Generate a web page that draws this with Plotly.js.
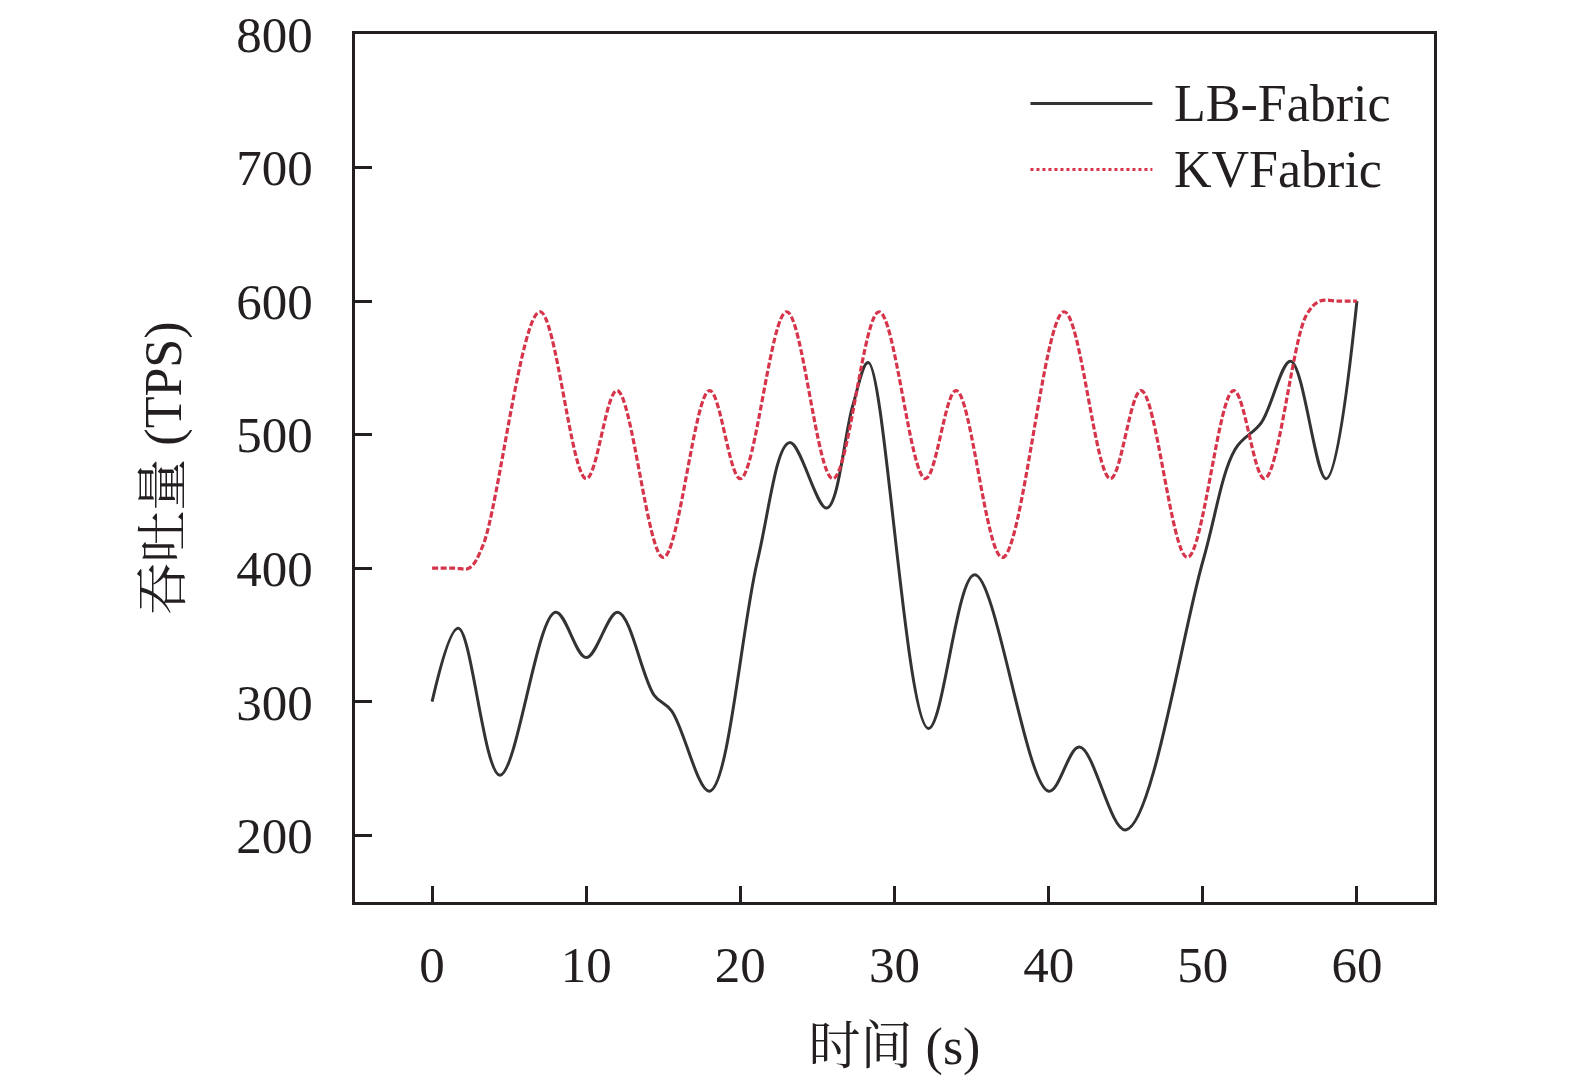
<!DOCTYPE html>
<html>
<head>
<meta charset="utf-8">
<script src="https://cdn.plot.ly/plotly-3.0.1.min.js"></script>
<style>
  html, body { margin: 0; padding: 0; background: #fff; }
  #chart { width: 1575px; height: 1087px; }
</style>
</head>
<body>
<div id="chart"></div>
<script>
// values
var lbTime = [0, 1.7, 4.4, 8.0, 10.0, 12.05, 14.4, 15.55, 18.0, 21.1, 23.2, 25.6, 27.3, 28.3, 32.2, 35.2, 40.0, 42.0, 45.0, 50.0, 52.1, 53.8, 55.7, 58.0, 60];
var lbTps = [300, 355, 245, 367, 333, 367, 305, 293, 233, 405, 494, 445, 522, 554, 280, 395, 233, 266, 204, 405, 489, 509, 555, 467, 600];

var kvTime = [0, 1.5, 2.4, 3.3, 7, 10, 12, 15, 18, 20, 23, 26, 29, 32, 34, 37, 41, 44, 46, 49, 52, 54, 56.7, 57.6, 58.8, 60];
var kvTps = [400, 400, 400, 417, 592, 467, 533, 408, 533, 467, 592, 467, 592, 467, 533, 408, 592, 467, 533, 408, 533, 467, 589, 600, 600, 600];

var seriesNames = ["LB-Fabric", "KVFabric"];

var axisColor = "#231f20";
var textFont = "Liberation Serif, Times New Roman, Noto Serif CJK SC, Noto Sans CJK SC, serif";

var trace1 = {
  x: lbTime,
  y: lbTps,
  name: seriesNames[0],
  type: "scatter",
  mode: "lines",
  line: { color: "#333333", width: 3, shape: "spline", smoothing: 1 }
};

var trace2 = {
  x: kvTime,
  y: kvTps,
  name: seriesNames[1],
  type: "scatter",
  mode: "lines",
  line: { color: "#d6344a", width: 3.2, dash: "6px,2.5px", shape: "spline", smoothing: 1 }
};

var data = [trace1, trace2];

// hand-made legend so the key lines are as long as in the original
var legendShapes = [
  { type: "line", xref: "paper", yref: "paper", x0: 0.626, x1: 0.739, y0: 0.920, y1: 0.920,
    line: { color: "#333333", width: 3 } },
  { type: "line", xref: "paper", yref: "paper", x0: 0.626, x1: 0.739, y0: 0.844, y1: 0.844,
    line: { color: "#d6344a", width: 3, dash: "dot" } }
];
var legendLabels = [
  { text: seriesNames[0], xref: "paper", yref: "paper", x: 0.757, y: 0.920,
    xanchor: "left", yanchor: "middle", showarrow: false,
    font: { family: textFont, size: 52, color: axisColor } },
  { text: seriesNames[1], xref: "paper", yref: "paper", x: 0.757, y: 0.844,
    xanchor: "left", yanchor: "middle", showarrow: false,
    font: { family: textFont, size: 52, color: axisColor } }
];

var layout = {
  width: 1575,
  height: 1087,
  margin: { l: 355, r: 141, t: 34, b: 185 },
  paper_bgcolor: "#ffffff",
  plot_bgcolor: "#ffffff",
  showlegend: false,
  font: { family: textFont, color: axisColor },
  xaxis: {
    range: [-5, 65],
    tick0: 0,
    dtick: 10,
    ticks: "inside",
    ticklen: 16,
    tickwidth: 3,
    tickcolor: axisColor,
    showline: true,
    linewidth: 3,
    linecolor: axisColor,
    mirror: true,
    showgrid: false,
    zeroline: false,
    ticklabelstandoff: 16,
    tickfont: { family: textFont, size: 51, color: axisColor },
    title: { text: "时间 (s)", font: { family: textFont, size: 52, color: axisColor }, standoff: 36 }
  },
  yaxis: {
    range: [150, 800],
    tick0: 0,
    dtick: 100,
    ticks: "inside",
    ticklen: 17,
    tickwidth: 3,
    tickcolor: axisColor,
    showline: true,
    linewidth: 3,
    linecolor: axisColor,
    mirror: true,
    showgrid: false,
    zeroline: false,
    ticklabelstandoff: 29,
    tickfont: { family: textFont, size: 51, color: axisColor },
    title: { text: "吞吐量 (TPS)", font: { family: textFont, size: 52, color: axisColor }, standoff: 39 }
  },
  shapes: legendShapes,
  annotations: legendLabels
};

Plotly.newPlot("chart", data, layout, { staticPlot: true });
</script>
</body>
</html>
